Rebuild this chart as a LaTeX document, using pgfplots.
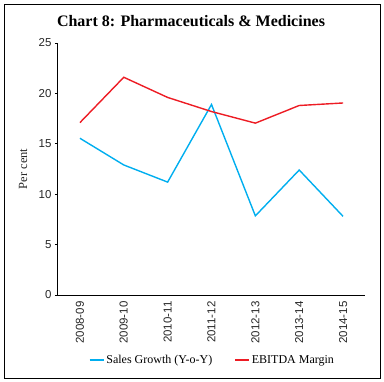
\documentclass[border=0pt]{standalone}
\usepackage{pgfplots}
\pgfplotsset{compat=1.18}
\usepackage{fontspec}
\setmainfont{Liberation Serif}
\setsansfont{Liberation Sans}
\definecolor{salesblue}{RGB}{0,174,239}
\definecolor{ebitdared}{RGB}{237,28,36}
\begin{document}
\begin{tikzpicture}
\path[use as bounding box] (-58bp,-87bp) rectangle (326bp,295bp);
\draw[line width=0.9bp] (-54bp,-83bp) rectangle (322bp,291bp);
\node[font=\fontsize{16bp}{18bp}\selectfont\bfseries] at (133bp,274bp) {Chart 8: Pharmaceuticals \& Medicines};
\begin{axis}[
  at={(0,0)}, anchor=south west,
  scale only axis,
  width=307bp, height=252bp,
  xmin=-0.5, xmax=6.5, ymin=0, ymax=25,
  axis x line*=bottom, axis y line*=left,
  axis line style={line width=1bp, black},
  xtick={0,...,6},
  xticklabels={2008-09,2009-10,2010-11,2011-12,2012-13,2013-14,2014-15},
  x tick style={draw=none},
  minor xtick={-0.5,0.5,...,6.5},
  minor x tick style={black, line width=0.6bp},
  minor tick length=4bp,
  ytick={0,5,...,25},
  y tick style={black, line width=0.6bp},
  major tick length=3bp,
  tick align=outside,
  /pgf/number format/assume math mode=true,
  tick label style={font=\sffamily\fontsize{11.5bp}{13bp}\selectfont, color=black!85},
  x tick label style={rotate=90, anchor=east},
  ylabel={Per cent},
  every axis y label/.style={at={(axis description cs:-0.114,0.5)}, rotate=90, anchor=center,
    font=\fontsize{12.5bp}{14bp}\selectfont, color=black!85},
  legend columns=2,
  legend style={draw=none, at={(0.503,-0.258)}, anchor=center,
    font=\fontsize{12bp}{14bp}\selectfont,
    /tikz/every even column/.append style={column sep=20bp}},
  legend image code/.code={\draw[#1, line width=1.5bp] (0bp,0bp) -- (14bp,0bp);},
]
\addplot[salesblue, line width=1.4bp] coordinates {
 (0,15.55) (1,12.9) (2,11.2) (3,18.9) (4,7.85) (5,12.4) (6,7.8)};
\addlegendentry{Sales Growth (Y-o-Y)}
\addplot[ebitdared, line width=1.4bp] coordinates {
 (0,17.1) (1,21.6) (2,19.6) (3,18.2) (4,17.05) (5,18.8) (6,19.05)};
\addlegendentry{EBITDA Margin}
\end{axis}
\end{tikzpicture}
\end{document}
